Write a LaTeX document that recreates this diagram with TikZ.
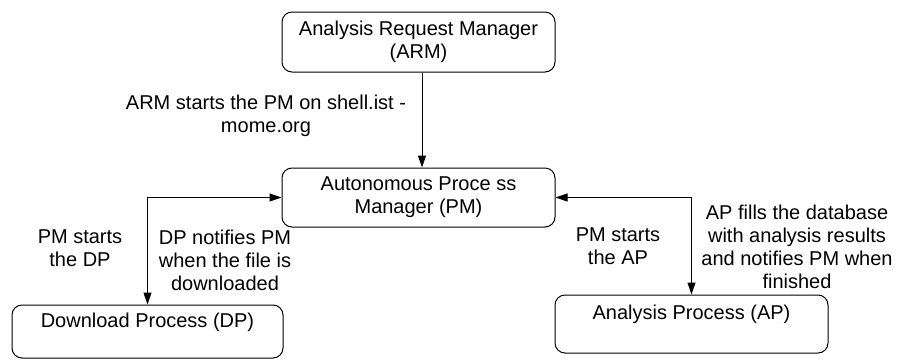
\documentclass[tikz,border=0pt]{standalone}
\usepackage{fontspec}
\setmainfont{Liberation Sans}
\usetikzlibrary{arrows.meta,calc}
\begin{document}
\begin{tikzpicture}[x=1pt,y=-1pt,
  every node/.style={font=\fontsize{20}{23}\selectfont},
  box/.style={draw, line width=1pt, rounded corners=10pt, align=center, inner sep=0pt},
  lbl/.style={align=center, inner sep=0pt},
  tip/.style={Triangle[length=12pt,width=8pt]},
  conn/.style={line width=1pt},
  ]
\useasboundingbox (0,0) rectangle (900,360);
\node[box, minimum width=273pt, minimum height=60pt] (ARM) at (418.5,42) {Analysis Request Manager\\(ARM)};
\node[box, minimum width=273pt, minimum height=59pt] (PM) at (418.5,197.5) {Autonomous Proce ss\\Manager (PM)};
\node[box, minimum width=271pt, minimum height=53pt] (DP) at (147.5,331.5) {Download Process (DP)\\\mbox{}};
\node[box, minimum width=273pt, minimum height=58pt] (AP) at (691.5,324) {Analysis Process (AP)\\\mbox{}};

\draw[conn, -{Triangle[length=12pt,width=8pt]}] ($(ARM.south)+(3.5,0)$) -- ($(PM.north)+(3.5,0)$);
\draw[conn, {Triangle[length=12pt,width=8pt]}-{Triangle[length=12pt,width=8pt]}] (PM.west) -| (DP.north);
\draw[conn, {Triangle[length=12pt,width=8pt]}-{Triangle[length=12pt,width=8pt]}] (PM.east) -| (AP.north);

\node[lbl] (l1) at (266,115.5) {ARM starts the PM on shell.ist -\\mome.org};
\node[lbl] (l2) at (80,248) {PM starts\\the DP};
\node[lbl] (l3) at (225,260) {DP notifies PM\\when the file is\\downloaded};
\node[lbl] (l4) at (618,246) {PM starts\\the AP};
\node[lbl] (l5) at (797,247) {AP fills the database\\with analysis results\\and notifies PM when\\finished};
\end{tikzpicture}
\end{document}
